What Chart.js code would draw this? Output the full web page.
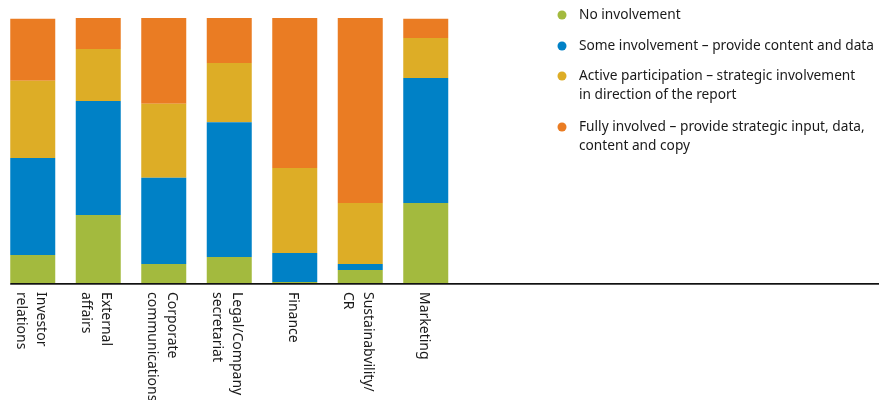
<!DOCTYPE html>
<html>
<head>
<meta charset="utf-8">
<script src="https://cdn.jsdelivr.net/npm/chart.js@4.4.1/dist/chart.umd.min.js"></script>
<style>
  body { margin: 0; background: #fff; }
  #wrap { position: relative; width: 888px; height: 400px; }
</style>
</head>
<body>
<div id="wrap"><canvas id="chart"></canvas></div>
<script>
// Categories (multi-line labels, rotated clockwise under the axis)
const categories = [
  ['Investor', 'relations'],
  ['External', 'affairs'],
  ['Corporate', 'communications'],
  ['Legal/Company', 'secretariat'],
  ['Finance'],
  ['Sustainabvility/', 'CR'],
  ['Marketing']
];

// Share of respondents (%) per level of involvement
const noInvolvement     = [10.6, 25.7, 7.2, 9.8, 0.4, 4.9, 30.2];
const someInvolvement   = [36.6, 43.0, 32.5, 50.9, 10.9, 2.3, 47.2];
const activeParticipation = [29.1, 19.6, 27.9, 22.3, 32.1, 23.0, 15.1];
const fullyInvolved     = [23.4, 11.7, 32.4, 17.0, 56.6, 69.8, 7.2];

const seriesNames = [
  ['No involvement'],
  ['Some involvement \u2013 provide content and data'],
  ['Active participation \u2013 strategic involvement', 'in direction of the report'],
  ['Fully involved \u2013 provide strategic input, data,', 'content and copy']
];
const colors = ['#A3BA3E', '#0081C6', '#DDAD26', '#EA7C23'];

const FONT = '"Noto Sans", "Open Sans", sans-serif';

// Axis line (longer than the plot), rotated labels and legend
const decorations = {
  id: 'decorations',
  afterDraw(chart) {
    const ctx = chart.ctx;
    const x = chart.scales.x;
    const area = chart.chartArea;
    const firstLeft = x.getPixelForValue(0) - chart.getDatasetMeta(0).data[0].width / 2;

    ctx.save();
    // base line with a soft grey shadow
    ctx.fillStyle = '#9a9a9a';
    ctx.fillRect(firstLeft, area.bottom + 1, 879 - firstLeft, 1);
    ctx.fillStyle = '#111';
    ctx.fillRect(firstLeft, area.bottom, 879 - firstLeft, 1.5);

    // category labels, reading top to bottom
    ctx.fillStyle = '#1a1a1a';
    ctx.font = '14px ' + FONT;
    ctx.textBaseline = 'middle';
    ctx.textAlign = 'left';
    categories.forEach((lines, i) => {
      const cx = x.getPixelForValue(i) - 2;
      lines.forEach((line, j) => {
        const off = (lines.length - 1) * 10 - j * 20;
        ctx.save();
        ctx.translate(cx + off, area.bottom + 9);
        ctx.rotate(Math.PI / 2);
        ctx.fillText(line, 0, 0);
        ctx.restore();
      });
    });

    // legend
    ctx.font = '13.7px ' + FONT;
    const rows = [15, 46, 76, 127];
    seriesNames.forEach((lines, i) => {
      ctx.fillStyle = colors[i];
      ctx.beginPath();
      ctx.arc(562, rows[i], 4.5, 0, Math.PI * 2);
      ctx.fill();
      ctx.fillStyle = '#1a1a1a';
      lines.forEach((line, j) => {
        ctx.fillText(line, 579, rows[i] + j * 19.5);
      });
    });
    ctx.restore();
  }
};

new Chart(document.getElementById('chart'), {
  type: 'bar',
  data: {
    labels: categories.map(l => l.join(' ')),
    datasets: [
      { label: seriesNames[0].join(' '), data: noInvolvement, backgroundColor: colors[0] },
      { label: seriesNames[1].join(' '), data: someInvolvement, backgroundColor: colors[1] },
      { label: seriesNames[2].join(' '), data: activeParticipation, backgroundColor: colors[2] },
      { label: seriesNames[3].join(' '), data: fullyInvolved, backgroundColor: colors[3] }
    ]
  },
  options: {
    responsive: true,
    maintainAspectRatio: false,
    animation: false,
    datasets: { bar: { categoryPercentage: 1, barPercentage: 45 / 65.5 } },
    layout: { padding: { left: 0, right: 429.5, top: 18, bottom: 117 } },
    scales: {
      x: { stacked: true, display: false },
      y: { stacked: true, display: false, min: 0, max: 100 }
    },
    plugins: {
      legend: { display: false },
      tooltip: { enabled: false }
    }
  },
  plugins: [decorations]
});
</script>
</body>
</html>
